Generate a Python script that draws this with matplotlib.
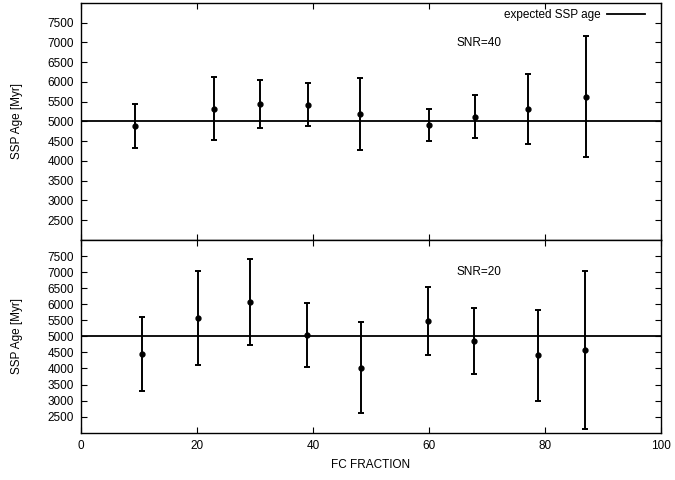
import matplotlib
matplotlib.use("Agg")
import matplotlib.pyplot as plt
import numpy as np

plt.rcParams['font.family'] = ['Liberation Sans', 'DejaVu Sans']
plt.rcParams['font.size'] = 8.5

# SNR=40 panel
fc40 = [9.3, 22.9, 30.8, 39.1, 48.1, 60.1, 68.0, 77.1, 87.1]
age40 = [4875, 5325, 5435, 5425, 5185, 4910, 5117, 5317, 5610]
hi40 = [5435, 6117, 6042, 5967, 6100, 5317, 5667, 6192, 7150]
lo40 = [4325, 4542, 4825, 4892, 4275, 4500, 4575, 4433, 4092]

# SNR=20 panel
fc20 = [10.5, 20.1, 29.2, 39.0, 48.3, 59.9, 67.8, 78.9, 86.9]
age20 = [4440, 5571, 6068, 5052, 4025, 5467, 4844, 4409, 4564]
hi20 = [5602, 7044, 7407, 6048, 5436, 6525, 5892, 5819, 7044]
lo20 = [3288, 4118, 4741, 4056, 2624, 4409, 3817, 2988, 2106]

expected_age = 5000
xticks = [0, 20, 40, 60, 80, 100]
yticks = [2500, 3000, 3500, 4000, 4500, 5000, 5500, 6000, 6500, 7000, 7500]

fig = plt.figure(figsize=(6.75, 4.8), dpi=100)
ax1 = fig.add_axes([0.12, 0.5, 0.859, 0.494])
ax2 = fig.add_axes([0.12, 0.0985, 0.859, 0.4015])

panels = [(ax1, fc40, age40, hi40, lo40, "SNR=40"),
          (ax2, fc20, age20, hi20, lo20, "SNR=20")]

for ax, fc, age, hi, lo, lab in panels:
    age = np.array(age)
    yerr = [age - np.array(lo), np.array(hi) - age]
    ax.axhline(expected_age, color='k', lw=1.3, label="expected SSP age", zorder=1)
    ax.errorbar(fc, age, yerr=yerr, fmt='o', color='k', ms=3.5, elinewidth=1.4,
                capsize=2.5, capthick=1.4, zorder=3)
    ax.set_xlim(0, 100)
    ax.set_ylim(2000, 8000)
    ax.set_xticks(xticks)
    ax.set_yticks(yticks)
    ax.tick_params(direction='in', top=True, right=True, length=4, width=0.8, pad=5)
    ax.set_ylabel("SSP Age [Myr]")
    ax.yaxis.set_label_coords(-0.1, 0.5)
    for s in ax.spines.values():
        s.set_linewidth(1.0)
    ax.text(0.648, 0.832, lab, transform=ax.transAxes, va='center')

ax1.tick_params(labelbottom=False)
ax1.legend(loc='center right', bbox_to_anchor=(0.973, 0.949), frameon=False,
           markerfirst=False, handlelength=3.2, handletextpad=0.6,
           borderaxespad=0, borderpad=0)
ax2.set_xlabel("FC FRACTION")
ax2.xaxis.set_label_coords(0.5, -0.137)

plt.savefig("out.png", dpi=100)
